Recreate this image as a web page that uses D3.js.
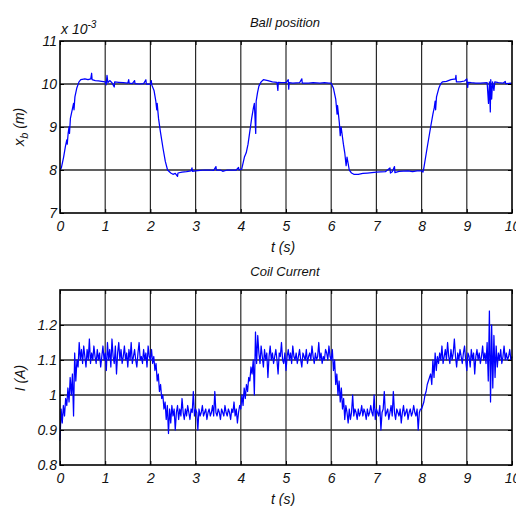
<!DOCTYPE html>
<html>
<head>
<meta charset="utf-8">
<script src="https://cdn.jsdelivr.net/npm/d3@7"></script>
<style>
  body { margin: 0; background: #fff; }
  text { font-family: "Liberation Sans", Arial, sans-serif; font-style: italic; fill: #111; }
</style>
</head>
<body>
<svg id="fig" width="516" height="506"></svg>
<script>
"use strict";

// time ticks shared by both plots
const timeTicks = [0, 1, 2, 3, 4, 5, 6, 7, 8, 9, 10];
const posTicks = [7, 8, 9, 10, 11];
const curTicks = [0.8, 0.9, 1, 1.1, 1.2];

// ball position, [t (s), x_b (x 10^-3 m)]
const ballPos = [
  [0,8.0],[0.03,8.05],[0.08,8.3],[0.12,8.55],[0.15,8.7],[0.16,8.6],[0.18,8.85],[0.2,9.0],[0.21,8.85],
  [0.23,9.2],[0.27,9.4],[0.3,9.55],[0.31,9.4],[0.33,9.7],[0.37,9.9],[0.42,10.05],[0.46,10.1],
  [0.55,10.12],[0.62,10.1],[0.68,10.12],[0.7,10.25],[0.71,10.1],[0.78,10.08],[0.85,10.07],
  [0.92,10.06],[1.0,10.05],[1.02,9.98],[1.04,10.2],[1.06,10.03],[1.1,10.08],[1.15,10.03],
  [1.2,9.93],[1.21,10.05],[1.3,10.04],[1.4,10.03],[1.5,10.02],[1.52,10.1],[1.53,10.02],
  [1.6,10.01],[1.65,10.08],[1.66,10.01],[1.75,10.0],[1.85,10.01],[1.9,10.1],[1.91,10.0],
  [2.0,10.0],[2.02,10.08],[2.03,9.98],[2.08,9.85],[2.12,9.6],[2.14,9.4],[2.15,9.55],[2.18,9.2],
  [2.22,8.9],[2.28,8.5],[2.33,8.2],[2.38,8.0],[2.45,7.93],[2.5,7.9],[2.55,7.92],[2.6,7.85],
  [2.61,7.93],[2.7,7.95],[2.8,7.96],[2.9,7.98],[2.92,8.05],[2.93,7.97],[3.0,7.98],[3.1,7.99],
  [3.2,8.0],[3.3,8.0],[3.4,7.99],[3.45,8.08],[3.46,8.0],[3.55,8.0],[3.6,7.97],[3.7,8.0],
  [3.8,8.0],[3.9,8.0],[3.95,8.06],[3.96,8.0],[4.02,8.02],[4.08,8.3],[4.12,8.4],[4.16,8.6],
  [4.2,8.9],[4.24,9.2],[4.28,9.45],[4.3,9.55],[4.33,8.85],[4.34,9.6],[4.37,9.8],[4.4,9.95],
  [4.45,10.05],[4.5,10.1],[4.6,10.08],[4.7,10.05],[4.8,10.04],[4.82,9.85],[4.83,10.04],
  [4.9,10.03],[5.0,10.03],[5.05,10.1],[5.06,9.88],[5.07,10.03],[5.15,10.02],[5.3,10.03],
  [5.35,10.12],[5.36,10.02],[5.5,10.02],[5.6,10.03],[5.75,10.02],[5.85,10.03],[5.95,10.02],
  [6.0,10.02],[6.05,9.9],[6.1,9.65],[6.13,9.3],[6.14,9.5],[6.18,9.1],[6.2,8.8],[6.22,9.0],
  [6.27,8.6],[6.3,8.4],[6.33,8.1],[6.35,8.3],[6.4,8.0],[6.45,7.93],[6.5,7.9],[6.6,7.9],
  [6.7,7.92],[6.8,7.93],[6.9,7.94],[7.0,7.95],[7.2,7.96],[7.3,8.05],[7.31,7.93],[7.35,7.96],
  [7.4,8.08],[7.41,7.94],[7.5,7.97],[7.7,7.98],[7.8,7.96],[7.9,7.98],[8.0,7.98],[8.03,7.95],
  [8.05,8.05],[8.12,8.5],[8.2,9.0],[8.25,9.3],[8.28,9.45],[8.3,9.6],[8.31,9.4],[8.33,9.7],
  [8.38,9.9],[8.42,10.0],[8.46,10.05],[8.55,10.06],[8.65,10.1],[8.75,10.12],[8.76,10.2],
  [8.77,10.05],[8.85,10.05],[8.95,10.07],[9.0,10.12],[9.02,9.92],[9.03,10.04],[9.1,10.03],
  [9.2,10.02],[9.3,10.02],[9.45,10.03],[9.48,9.55],[9.5,10.05],[9.52,9.35],[9.53,10.1],
  [9.55,9.65],[9.57,10.05],[9.6,9.85],[9.62,10.05],[9.7,10.03],[9.8,10.02],[9.85,10.06],
  [9.86,10.01],[10,10.02]
];

// coil current (A), evenly sampled from 0 to 10 s
const coilCurrent = [
  // 0 - 0.4
  0.87,0.96,0.92,0.97,0.94,0.99,0.97,1.02,0.98,1.05,1.00,1.06,0.94,1.12,1.04,1.10,
  // 0.4 - 1
  1.08,1.15,1.10,1.13,1.09,1.14,1.11,1.08,1.13,1.10,1.16,1.09,1.12,1.10,1.14,1.11,1.09,1.13,1.10,1.12,1.08,1.11,1.14,1.10,
  // 1 - 2
  1.12,1.07,1.15,1.10,1.13,1.08,1.16,1.11,1.09,1.14,1.06,1.12,1.15,1.10,1.13,1.09,1.11,1.14,1.10,1.12,
  1.08,1.13,1.10,1.15,1.09,1.11,1.13,1.10,1.08,1.12,1.15,1.10,1.11,1.09,1.13,1.10,1.12,1.08,1.14,1.11,
  // 2 - 2.5
  1.10,1.13,1.09,1.11,1.07,1.09,1.04,1.06,1.01,1.03,0.99,1.00,0.96,0.98,0.93,0.97,0.89,0.96,0.92,0.97,
  // 2.5 - 4
  0.94,0.96,0.90,0.95,0.97,0.93,0.96,0.94,0.99,0.95,0.93,0.96,0.94,0.97,0.95,0.93,0.96,0.95,1.01,0.94,
  0.96,0.95,0.90,0.96,0.94,0.95,0.97,0.94,0.95,0.96,0.93,0.95,0.96,0.94,0.95,0.97,0.94,1.01,0.95,0.94,
  0.96,0.95,0.93,0.96,0.95,0.94,0.97,0.95,0.94,0.96,0.95,0.93,0.96,0.95,0.98,0.94,0.96,0.92,0.95,0.97,
  // 4 - 4.4
  0.96,1.00,0.97,1.02,0.99,1.03,1.01,1.05,1.04,1.08,1.06,1.10,1.00,1.18,1.09,1.17,
  // 4.4 - 6
  1.12,1.09,1.14,1.11,1.08,1.13,1.10,1.12,1.05,1.11,1.14,1.10,1.12,1.09,1.11,1.13,
  1.10,1.06,1.12,1.11,1.15,1.10,1.09,1.12,1.07,1.11,1.13,1.10,1.12,1.09,1.14,1.11,
  1.10,1.12,1.09,1.11,1.13,1.10,1.08,1.12,1.11,1.10,1.13,1.09,1.11,1.12,1.10,1.14,
  1.11,1.09,1.12,1.10,1.11,1.15,1.10,1.12,1.09,1.11,1.10,1.13,1.12,1.10,1.14,1.11,
  // 6 - 6.4
  1.10,1.13,1.07,1.10,1.03,1.06,1.00,1.04,0.98,1.02,0.96,0.99,0.93,0.97,0.95,0.92,
  // 6.4 - 8
  0.96,0.93,0.95,1.00,0.94,0.96,0.95,0.93,0.96,0.94,0.95,0.97,0.94,0.96,0.95,0.93,
  0.96,0.94,0.95,0.97,0.95,0.94,1.00,0.93,0.96,0.95,0.94,0.97,0.90,0.95,0.96,1.01,
  0.94,0.95,0.96,0.93,0.95,0.97,0.94,1.01,0.95,0.93,0.96,0.95,0.94,0.96,0.92,0.95,
  0.97,0.94,0.95,0.96,0.93,0.95,0.96,0.94,0.95,0.97,0.95,0.94,0.96,0.90,0.95,0.96,
  // 8 - 8.4
  0.96,0.97,0.98,1.00,1.01,1.03,1.04,1.05,1.06,1.03,1.10,1.05,1.12,1.07,1.11,1.09,
  // 8.4 - 9.4
  1.12,1.10,1.14,1.09,1.11,1.13,1.10,1.15,1.11,1.09,1.13,1.10,1.12,1.16,1.11,1.08,1.12,1.10,1.13,1.11,
  1.09,1.12,1.14,1.10,1.07,1.12,1.11,1.08,1.13,1.10,1.12,1.06,1.11,1.13,1.10,1.12,1.09,1.11,1.14,1.10,
  // 9.4 - 10
  1.12,1.09,1.15,1.04,1.24,0.98,1.20,1.02,1.17,1.05,1.14,1.08,1.12,1.10,1.13,1.09,1.11,1.14,1.10,1.12,
  1.10,1.11,1.13,1.10,1.11
];

const svg = d3.select("#fig");
const left = 60, right = 512;

const x = d3.scaleLinear().domain([0, 10]).range([left, right]);

function drawPanel(opts) {
  const y = d3.scaleLinear().domain(opts.domain).range([opts.bottom, opts.top]);
  const g = svg.append("g");

  // grid
  g.selectAll(".vg").data(timeTicks.slice(1, -1)).enter().append("line")
    .attr("x1", d => x(d)).attr("x2", d => x(d))
    .attr("y1", opts.top).attr("y2", opts.bottom)
    .attr("stroke", "#2a2a2a").attr("stroke-width", 1.2);
  g.selectAll(".hg").data(opts.grid).enter().append("line")
    .attr("x1", left).attr("x2", right)
    .attr("y1", d => y(d)).attr("y2", d => y(d))
    .attr("stroke", "#2a2a2a").attr("stroke-width", 1.3);

  // signal
  const line = d3.line().x(d => x(d[0])).y(d => y(d[1]));
  g.append("path").datum(opts.data)
    .attr("d", line)
    .attr("fill", "none")
    .attr("stroke", "#0000ff")
    .attr("stroke-width", 1.25)
    .attr("stroke-linejoin", "round");

  // axes, ticks pointing inward like matlab
  const xa = d3.axisBottom(x).tickValues(timeTicks).tickSize(-4).tickPadding(8).tickFormat(d3.format("d"));
  const ya = d3.axisLeft(y).tickValues(opts.ticks).tickSize(-4).tickPadding(3).tickFormat(d => String(d));
  const xg = g.append("g").attr("transform", `translate(0,${opts.bottom})`).call(xa);
  const yg = g.append("g").attr("transform", `translate(${left},0)`).call(ya);
  g.append("g").attr("transform", `translate(${right},0)`)
    .call(d3.axisRight(y).tickValues(opts.ticks).tickSize(-4).tickFormat(""));
  g.append("g").attr("transform", `translate(0,${opts.top})`)
    .call(d3.axisTop(x).tickValues(timeTicks).tickSize(-4).tickFormat(""));
  g.selectAll(".domain").remove();
  g.selectAll(".tick line").attr("stroke", "#000");
  [xg, yg].forEach(a => a.selectAll("text")
    .attr("font-size", 14)
    .attr("font-family", "Liberation Sans, Arial, sans-serif")
    .attr("font-style", "italic")
    .attr("fill", "#111"));

  // box
  g.append("rect")
    .attr("x", left).attr("y", opts.top)
    .attr("width", right - left).attr("height", opts.bottom - opts.top)
    .attr("fill", "none").attr("stroke", "#000").attr("stroke-width", 1.6);

  // title and x label
  g.append("text").attr("x", 285).attr("y", opts.top - 14)
    .attr("text-anchor", "middle").attr("font-size", 13).text(opts.title);
  g.append("text").attr("x", 283).attr("y", opts.bottom + 39)
    .attr("text-anchor", "middle").attr("font-size", 14).text("t (s)");

  return g;
}

const top1 = drawPanel({
  domain: [7, 11], top: 41, bottom: 213,
  ticks: posTicks, grid: [8, 9, 10],
  data: ballPos, title: "Ball position"
});

// y label x_b (m)
const yl1 = top1.append("text")
  .attr("transform", "translate(24,127) rotate(-90)")
  .attr("text-anchor", "middle").attr("font-size", 15);
yl1.append("tspan").text("x");
yl1.append("tspan").attr("font-size", 11).attr("dy", 4).text("b");
yl1.append("tspan").attr("dy", -4).attr("font-size", 14).text(" (m)");

// exponent label
const ex = top1.append("text").attr("x", 61).attr("y", 34).attr("font-size", 14);
ex.append("tspan").text("x 10");
ex.append("tspan").attr("font-size", 10).attr("dy", -6).text("-3");

const coilData = coilCurrent.map((v, i) => [i * 10 / (coilCurrent.length - 1), v]);

const bot = drawPanel({
  domain: [0.8, 1.3], top: 290, bottom: 465,
  ticks: curTicks, grid: [0.9, 1, 1.1, 1.2],
  data: coilData, title: "Coil Current"
});

bot.append("text")
  .attr("transform", "translate(25,378) rotate(-90)")
  .attr("text-anchor", "middle").attr("font-size", 14).text("I (A)");
</script>
</body>
</html>
